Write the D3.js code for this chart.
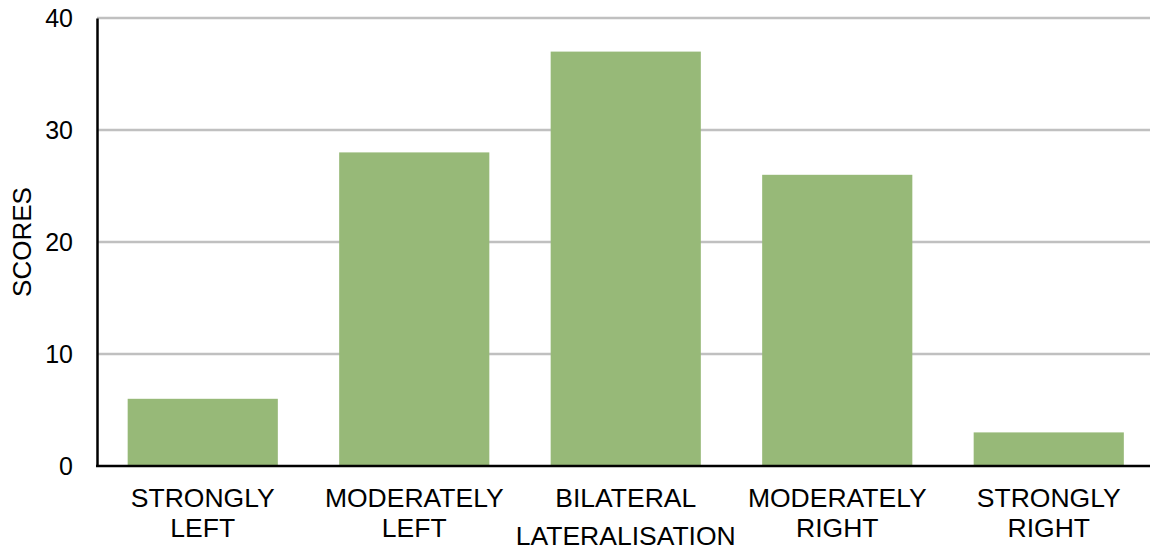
<!DOCTYPE html>
<html>
<head>
<meta charset="utf-8">
<script src="https://cdn.jsdelivr.net/npm/d3@7"></script>
<style>
  body { margin: 0; background: #fff; }
  svg text { font-family: "Liberation Sans", Arial, sans-serif; fill: #000; }
</style>
</head>
<body>
<svg id="chart" width="1150" height="550"></svg>
<script>
// categories (each label split on its line breaks)
const categories = [
    "STRONGLY\nLEFT",
    "MODERATELY\nLEFT",
    "BILATERAL\nLATERALISATION",
    "MODERATELY\nRIGHT",
    "STRONGLY\nRIGHT"
];
const scores = [6, 28, 37, 26, 3];
const yTicks = [0, 10, 20, 30, 40];
const yLabel = "SCORES";

var margin = { top: 18, right: -4.5, bottom: 84, left: 97 };
var width = 1150, height = 550;
var svg = d3.select("#chart");

const xScale = d3.scaleBand()
    .domain(categories)
    .range([margin.left, width - margin.right])
    .paddingInner(0.29)
    .paddingOuter(0.145);

const yScale = d3.scaleLinear()
    .domain([0, 40])
    .range([height - margin.bottom, margin.top]);

// gridlines
svg.append("g")
    .selectAll("line")
    .data(yTicks.filter(d => d > 0))
    .join("line")
    .attr("x1", margin.left)
    .attr("x2", width)
    .attr("y1", d => yScale(d))
    .attr("y2", d => yScale(d))
    .attr("stroke", "#c0c0c0")
    .attr("stroke-width", 2.5);

// bars
svg.append("g")
    .selectAll("rect")
    .data(scores)
    .join("rect")
    .attr("x", (d, i) => xScale(categories[i]))
    .attr("width", xScale.bandwidth())
    .attr("y", d => yScale(d))
    .attr("height", d => yScale(0) - yScale(d))
    .attr("fill", "#97b978");

// y axis
const yAxis = svg.append("g")
    .attr("transform", `translate(${margin.left},0)`)
    .call(d3.axisLeft(yScale).tickValues(yTicks).tickSize(0).tickPadding(24));
yAxis.select(".domain").attr("stroke", "#000").attr("stroke-width", 2.5);
yAxis.selectAll("text").style("font-size", "25px");

// x axis line
svg.append("line")
    .attr("x1", margin.left - 1)
    .attr("x2", width)
    .attr("y1", yScale(0))
    .attr("y2", yScale(0))
    .attr("stroke", "#000")
    .attr("stroke-width", 2.5);

// category labels
const labels = svg.append("g")
    .selectAll("text")
    .data(categories)
    .join("text")
    .attr("text-anchor", "middle")
    .style("font-size", "26.5px")
    .attr("transform", d => `translate(${xScale(d) + xScale.bandwidth() / 2},${yScale(0) + 41})`);

labels.each(function (d) {
    const t = d3.select(this);
    const lines = d.split("\n");
    lines.forEach((line, i) => {
        const ts = t.append("tspan").attr("x", 0).text(line);
        // lines wider than the band get pushed down a bit, as in the original
        let dy = i * 30;
        if (i > 0 && ts.node().getComputedTextLength() > xScale.step()) dy += 8;
        ts.attr("y", dy);
    });
});

// y label
svg.append("text")
    .attr("transform", `translate(31,${(yScale(0) + yScale(40)) / 2}) rotate(-90)`)
    .attr("text-anchor", "middle")
    .style("font-size", "26px")
    .text(yLabel);
</script>
</body>
</html>
